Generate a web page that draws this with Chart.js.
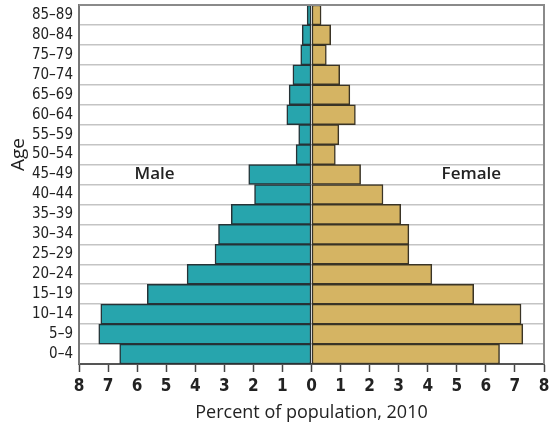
<!DOCTYPE html>
<html>
<head>
<meta charset="utf-8">
<script src="https://cdn.jsdelivr.net/npm/chart.js@4/dist/chart.umd.min.js"></script>
<style>
  html, body { margin: 0; padding: 0; background: #fff; }
  #pyramid { display: block; }
</style>
</head>
<body>
<canvas id="pyramid" width="549" height="424"></canvas>
<script>
// age groups, youngest first (axis is reversed so 0–4 sits at the bottom)
const ageGroups = ['0–4', '5–9', '10–14', '15–19', '20–24', '25–29', '30–34', '35–39', '40–44',
  '45–49', '50–54', '55–59', '60–64', '65–69', '70–74', '75–79', '80–84', '85–89'];

// percent of population, 2010
const malePct = [6.6, 7.32, 7.25, 5.65, 4.28, 3.32, 3.2, 2.76, 1.96,
  2.16, 0.53, 0.44, 0.85, 0.77, 0.64, 0.37, 0.32, 0.15];
const femalePct = [6.47, 7.27, 7.21, 5.58, 4.14, 3.35, 3.35, 3.07, 2.46,
  1.69, 0.82, 0.94, 1.51, 1.32, 0.97, 0.51, 0.66, 0.33];

const narrowFont = '"DejaVu Sans Condensed", "Liberation Sans Narrow", "Noto Sans", sans-serif';
const textFont = '"Open Sans", "Noto Sans", sans-serif';

// top and right edges of the plot frame
const framePlugin = {
  id: 'frame',
  afterDraw(chart) {
    const a = chart.chartArea;
    const ctx = chart.ctx;
    ctx.save();
    ctx.strokeStyle = '#8a8a8a';
    ctx.lineWidth = 2;
    ctx.beginPath();
    ctx.moveTo(a.left, a.top);
    ctx.lineTo(a.right, a.top);
    ctx.lineTo(a.right, a.bottom);
    ctx.stroke();
    ctx.restore();
  }
};

// "Male" / "Female" side labels and the rotated "Age" title
const sideLabels = {
  id: 'sideLabels',
  afterDatasetsDraw(chart) {
    const xs = chart.scales.x, ys = chart.scales.y;
    const yPos = ys.getPixelForValue(ageGroups.indexOf('45–49'));
    const ctx = chart.ctx;
    ctx.save();
    ctx.fillStyle = '#222';
    ctx.font = '600 17px ' + textFont;
    ctx.textAlign = 'center';
    ctx.textBaseline = 'middle';
    ctx.fillText('Male', xs.getPixelForValue(-5.4), yPos);
    ctx.fillText('Female', xs.getPixelForValue(5.5), yPos);

    // axis title sits a little above the middle, beside 50–54
    const ageY = ys.getPixelForValue(ageGroups.indexOf('50–54'));
    ctx.translate(19, ageY);
    ctx.rotate(-Math.PI / 2);
    ctx.font = '19px ' + textFont;
    ctx.fillText('Age', 0, 0);
    ctx.restore();
  }
};

new Chart(document.getElementById('pyramid'), {
  type: 'bar',
  data: {
    labels: ageGroups,
    datasets: [
      {
        label: 'Male',
        data: malePct.map(v => -v),
        backgroundColor: '#27a5ad',
        borderColor: '#263236',
        borderWidth: 1.5,
        borderSkipped: false
      },
      {
        label: 'Female',
        data: femalePct,
        backgroundColor: '#d5b463',
        borderColor: '#3a3426',
        borderWidth: 1.5,
        borderSkipped: false
      }
    ]
  },
  options: {
    indexAxis: 'y',
    responsive: false,
    animation: false,
    barPercentage: 1,
    categoryPercentage: 1,
    layout: { padding: { top: 5, right: 5, left: 0, bottom: 0 } },
    plugins: {
      legend: { display: false },
      tooltip: { enabled: false }
    },
    scales: {
      x: {
        type: 'linear',
        stacked: true,
        min: -8,
        max: 8,
        ticks: {
          stepSize: 1,
          autoSkip: false,
          maxRotation: 0,
          color: '#222',
          padding: 4,
          font: { family: narrowFont, size: 17, weight: 'bold' },
          callback: v => Math.abs(v)
        },
        grid: {
          drawOnChartArea: false,
          drawTicks: true,
          tickLength: 8,
          tickColor: '#444',
          tickWidth: 1.5
        },
        border: { color: '#555', width: 2 },
        title: {
          display: true,
          text: 'Percent of population, 2010',
          color: '#222',
          padding: { top: 0, bottom: 0 },
          font: { family: textFont, size: 18 }
        },
        afterFit(scale) {
          scale.height = 60;
          scale.paddingLeft = 0;
          scale.paddingRight = 0;
        }
      },
      y: {
        stacked: true,
        reverse: true,
        ticks: {
          color: '#222',
          padding: 6,
          autoSkip: false,
          font: { family: narrowFont, size: 15 }
        },
        grid: {
          color: '#c4c4c4',
          lineWidth: 1.5,
          drawTicks: false
        },
        border: { color: '#777', width: 2 },
        afterFit(scale) {
          scale.width = 79;
          scale.paddingTop = 0;
          scale.paddingBottom = 0;
        }
      }
    }
  },
  plugins: [framePlugin, sideLabels]
});
</script>
</body>
</html>
